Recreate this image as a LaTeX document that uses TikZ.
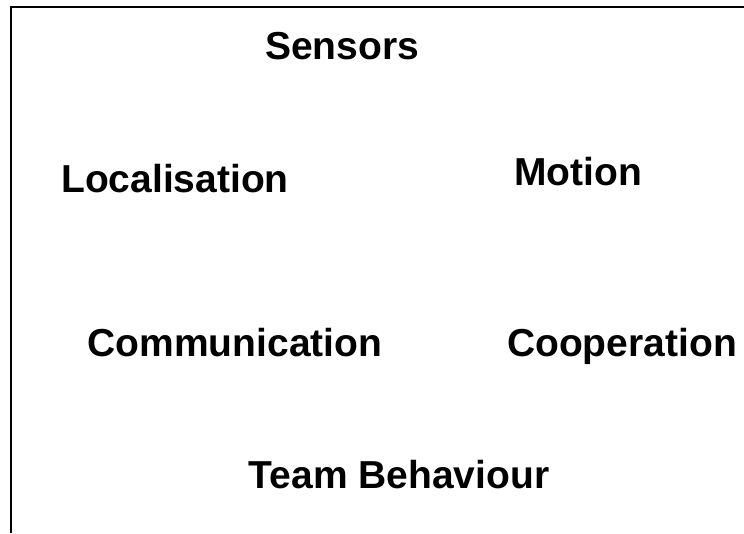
\documentclass[tikz,border=0pt]{standalone}
\usepackage{fontspec}
\setmainfont{Liberation Sans}
\begin{document}
\begin{tikzpicture}
		[x=1pt,y=-1pt,
		mylabel/.style={font=\bfseries\fontsize{39}{42}\selectfont,anchor=base,inner sep=0pt}]
		\useasboundingbox (0,0) rectangle (744,533);
		\draw[line width=2pt] (744,7) -- (11,7) -- (11,533);
		\node[mylabel,name=sensors] at (342,59) {Sensors};
		\node[mylabel,name=local] at (175,192) {Localisation};
		\node[mylabel,name=motion] at (578,185) {Motion};
		\node[mylabel,name=comm] at (235,356) {Communication};
		\node[mylabel,name=coop] at (622,356) {Cooperation};
		\node[mylabel,name=team] at (399,488) {Team Behaviour};
	\end{tikzpicture}
\end{document}
